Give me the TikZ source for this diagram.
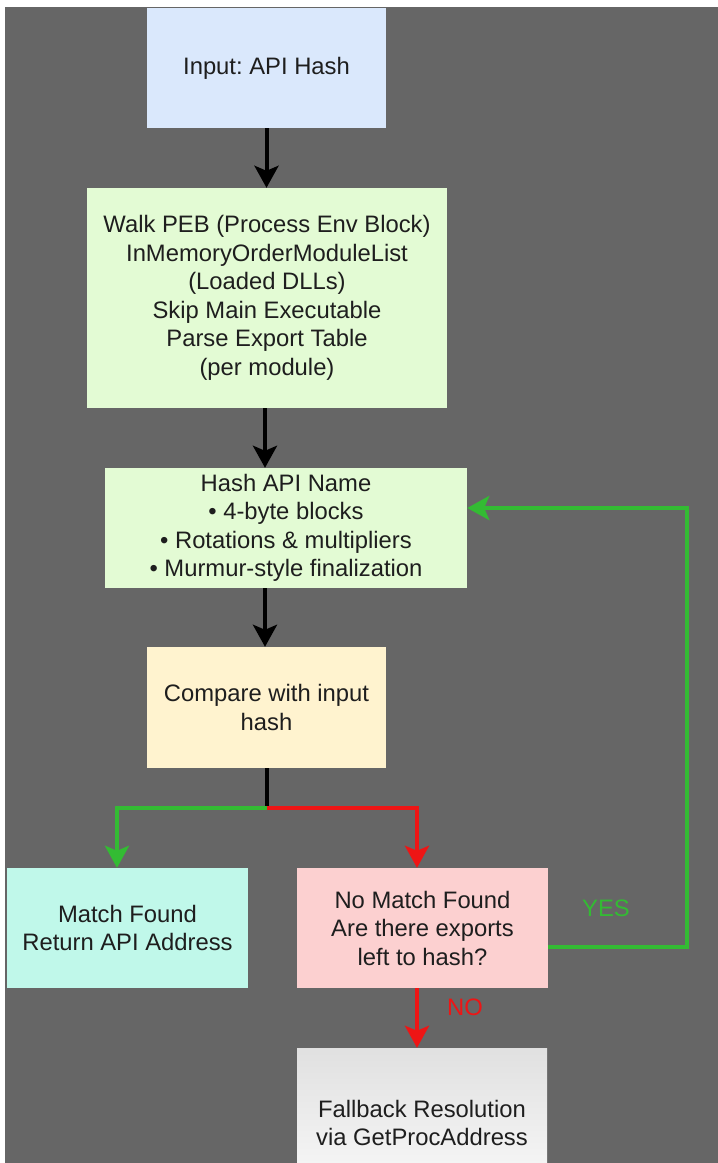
\documentclass[tikz,border=0pt]{standalone}
\usepackage{fontspec}
\setmainfont{Liberation Sans}
\usetikzlibrary{arrows.meta,calc}
\frenchspacing

\definecolor{canvas}{HTML}{666666}
\definecolor{inblue}{HTML}{DAE8FC}
\definecolor{stepgreen}{HTML}{E3FBD4}
\definecolor{cmpyellow}{HTML}{FFF3CF}
\definecolor{okmint}{HTML}{C0F8EA}
\definecolor{failpink}{HTML}{FCD0D0}
\definecolor{txt}{HTML}{1E1E1E}
\definecolor{yesgreen}{HTML}{33BB33}
\definecolor{nored}{HTML}{EE1515}

\tikzset{
  box/.style={draw=none, text=txt, align=center, inner sep=0pt,
    font=\fontsize{23.8}{28.5}\selectfont},
  flow/.style={line width=4pt, -{Stealth[length=22pt,width=24pt,inset=5pt]}},
  plain/.style={line width=4pt},
  lbl/.style={font=\fontsize{23.8}{28.5}\selectfont, inner sep=0pt},
}

\begin{document}
\begin{tikzpicture}[x=1pt,y=-1pt]
  \useasboundingbox (0,0) rectangle (718,1163);
  \clip (0,0) rectangle (718,1163);
  \fill[white] (0,0) rectangle (718,1163);
  \fill[canvas] (5,7) rectangle (718,1163);

  % process steps
  \node[box, fill=inblue, minimum width=239pt, minimum height=120pt] (input) at (266.5,68) {Input: API Hash};
  \node[box, fill=stepgreen, minimum width=360pt, minimum height=220pt] (walk) at (267,298)
    {Walk PEB (Process Env Block)\\InMemoryOrderModuleList\\(Loaded DLLs)\\Skip Main Executable\\Parse Export Table\\(per module)};
  \node[box, fill=stepgreen, minimum width=362pt, minimum height=120pt] (hash) at (286,528)
    {Hash API Name\\• 4-byte blocks\\• Rotations \& multipliers\\• Murmur-style finalization};
  \node[box, fill=cmpyellow, minimum width=239pt, minimum height=121pt] (cmp) at (266.5,707.5)
    {Compare with input\\hash};
  \node[box, fill=okmint, minimum width=241pt, minimum height=120pt] (match) at (127.5,928)
    {Match Found\\Return API Address};
  \node[box, fill=failpink, minimum width=251pt, minimum height=120pt] (nomatch) at (422.5,928)
    {No Match Found\\Are there exports\\left to hash?};
  \node[box, top color=black!12, bottom color=black!2, minimum width=250pt, minimum height=150pt] (fallback) at (422,1123)
    {Fallback Resolution\\via GetProcAddress};

  % main chain
  \draw[flow] (input.south) -- (input.south |- walk.north);
  \draw[flow] ([xshift=-2pt]walk.south) -- ([xshift=-2pt]walk.south |- hash.north);
  \draw[flow] ([xshift=-21pt]hash.south) -- ([xshift=-21pt]hash.south |- cmp.north);

  % decision split
  \coordinate (split) at ($(cmp.south)+(0,40)$);
  \draw[plain, black] (cmp.south) -- (split);
  \draw[flow, yesgreen] (split) -| ([xshift=-10.5pt]match.north);
  \draw[flow, nored] (split) -| ([xshift=-5.5pt]nomatch.north);

  % loop back while exports remain
  \draw[flow, yesgreen] ([yshift=-19pt]nomatch.east) -- ++(139,0) |- ([yshift=20pt]hash.east);
  \node[lbl, text=yesgreen] (yes) at (606,908) {YES};

  % nothing left to hash
  \draw[flow, nored] ([xshift=-5.5pt]nomatch.south) -- ([xshift=-5pt]fallback.north);
  \node[lbl, text=nored] (no) at (465,1007) {NO};
\end{tikzpicture}
\end{document}
